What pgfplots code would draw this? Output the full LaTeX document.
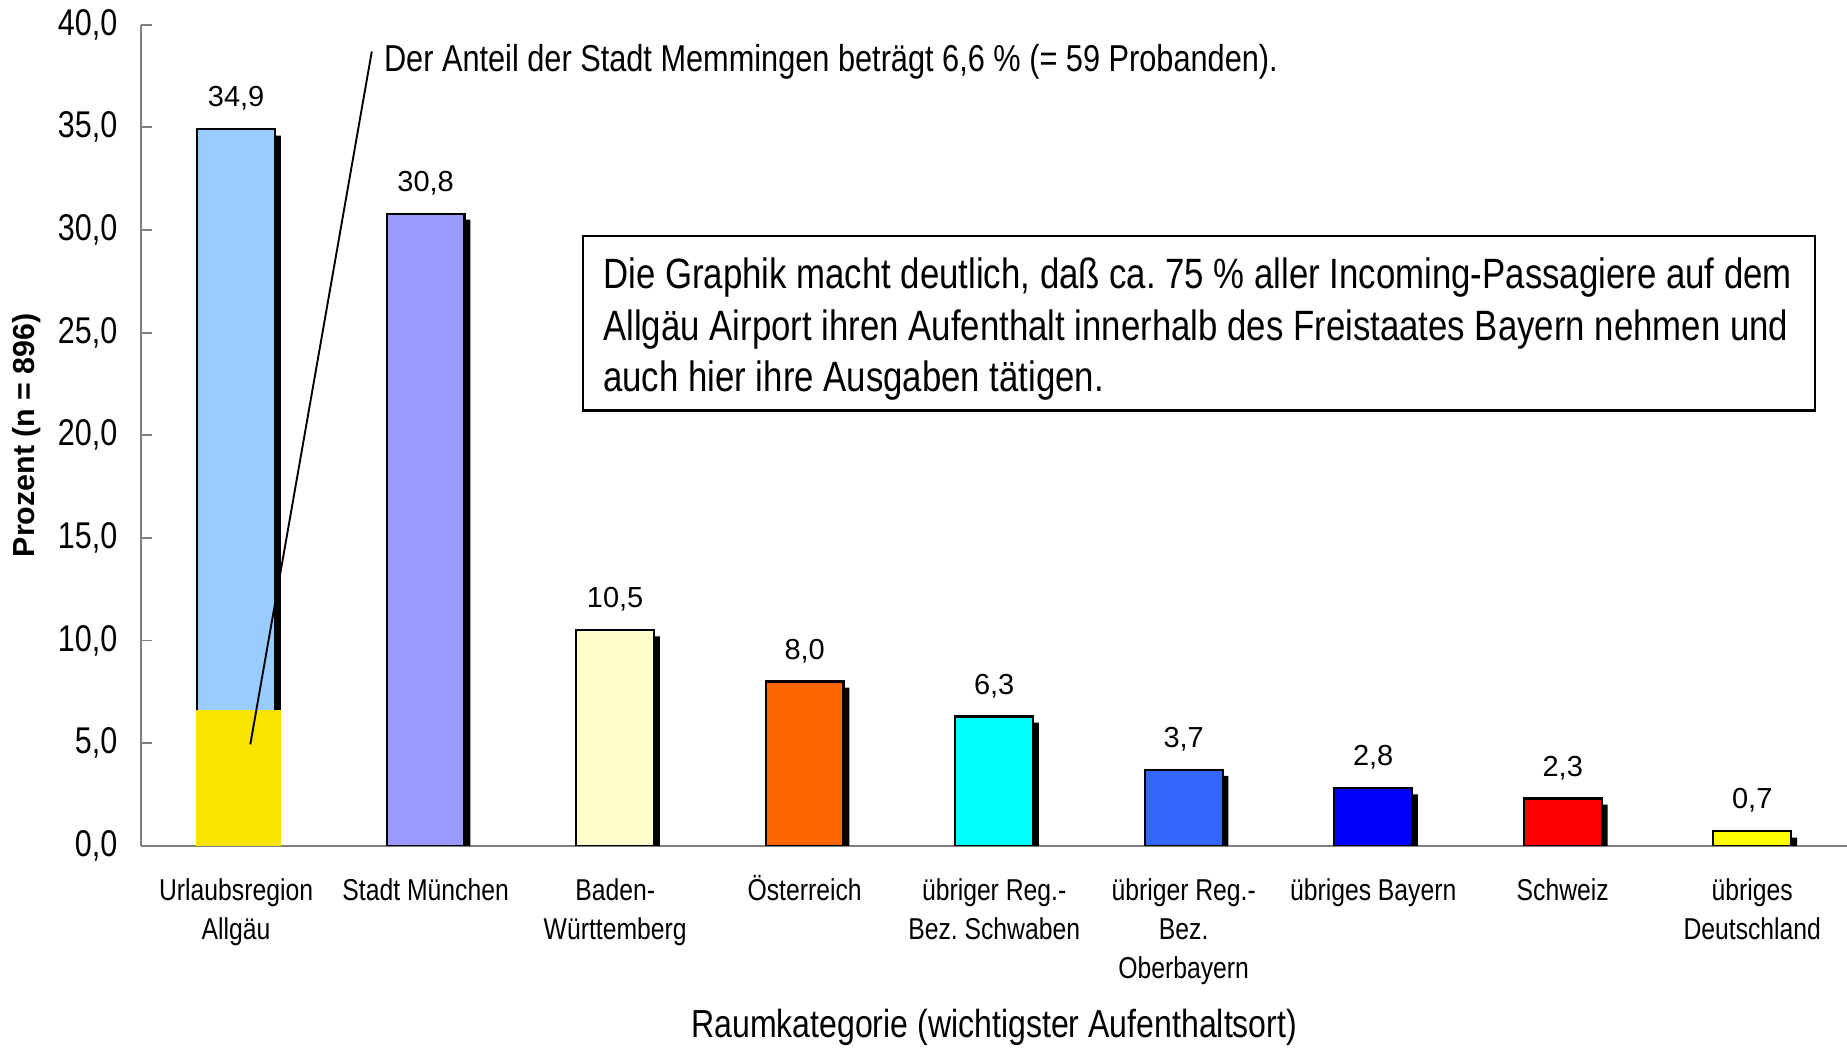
\documentclass[border=0pt]{standalone}
\usepackage{fontspec}
\usepackage{pgfplots}
\usepackage{pgfplotstable}
\pgfplotsset{compat=1.18}
\setmainfont{Liberation Sans}
\newfontfamily\narrow[FakeStretch=0.82]{Liberation Sans}
\frenchspacing

\definecolor{cUrlaub}{RGB}{153,204,255}
\definecolor{cMuenchen}{RGB}{153,153,255}
\definecolor{cBW}{RGB}{255,255,204}
\definecolor{cAT}{RGB}{255,102,0}
\definecolor{cSchwaben}{RGB}{0,255,255}
\definecolor{cObb}{RGB}{51,102,255}
\definecolor{cBayern}{RGB}{0,0,255}
\definecolor{cCH}{RGB}{255,0,0}
\definecolor{cDE}{RGB}{255,255,0}
\definecolor{cMemm}{RGB}{248,228,0}

% Anteile in Prozent (n = 896)
\pgfplotstableread{
x y
1 34.9
2 30.8
3 10.5
4 8.0
5 6.3
6 3.7
7 2.8
8 2.3
9 0.7
}\anteile

\newcommand{\balken}[3]{%
  \addplot[fill=#1, draw=black, line width=0.9pt, nodes near coords] coordinates {(#2,#3)};}
\newcommand{\st}{\rule{0pt}{13pt}}

\begin{document}
\begin{tikzpicture}
\useasboundingbox (-60pt,-85.5pt) rectangle (724pt,359pt);
\begin{axis}[
  scale only axis,
  width=724pt, height=348.5pt,
  xmin=0.5, xmax=9.5, ymin=0, ymax=40,
  axis lines*=left,
  axis line style={gray, line width=0.8pt},
  ybar, bar width=33pt, bar shift=0pt,
  xtick={1,...,9},
  xticklabels={\st Urlaubsregion\\Allgäu, \st Stadt München, \st Baden-\\Württemberg, \st Österreich,
    \st übriger Reg.-\\Bez. Schwaben, \st übriger Reg.-\\Bez.\\Oberbayern, \st übriges Bayern,
    \st Schweiz, \st übriges\\Deutschland},
  major x tick style={draw=none},
  ytick={0,5,...,40},
  ytick style={gray, line width=0.8pt},
  tick align=inside, major tick length=4.5pt,
  /pgf/number format/.cd, fixed, fixed zerofill, precision=1, use comma, assume math mode=true,
  /pgfplots/.cd,
  yticklabel style={font=\narrow\fontsize{15.8}{18}\selectfont, anchor=east, inner sep=0pt, xshift=-10pt},
  xticklabel style={font=\narrow\fontsize{12.8}{16.5}\selectfont, align=center, anchor=north,
    inner sep=0pt, yshift=-10pt},
  every node near coord/.append style={font=\fontsize{12.3}{14}\selectfont, inner sep=0pt, anchor=south, yshift=7.5pt, text=black},
  xlabel={Raumkategorie (wichtigster Aufenthaltsort)},
  xlabel style={at={(axis description cs:0.5,-0.221)}, anchor=center, font=\narrow\fontsize{16.6}{19}\selectfont},
  ylabel={Prozent (n = 896)},
  ylabel style={at={(axis description cs:-0.067,0.5)}, anchor=center, font=\bfseries\fontsize{12.9}{15}\selectfont},
]
% Schatten
\addplot[fill=black, draw=none, bar shift=2.5pt] table[x=x, y expr=\thisrow{y}-0.3] {\anteile};
% Balken
\balken{cUrlaub}{1}{34.9}
\balken{cMuenchen}{2}{30.8}
\balken{cBW}{3}{10.5}
\balken{cAT}{4}{8.0}
\balken{cSchwaben}{5}{6.3}
\balken{cObb}{6}{3.7}
\balken{cBayern}{7}{2.8}
\balken{cCH}{8}{2.3}
\balken{cDE}{9}{0.7}
% Stadt Memmingen innerhalb der Urlaubsregion
\addplot[fill=cMemm, draw=none, bar width=36pt, bar shift=1pt] coordinates {(1,6.6)};
\draw[line width=0.8pt] (axis cs:1.075,4.94) -- (axis cs:1.716,38.7);
\node[anchor=base west, inner sep=0pt, font=\narrow\fontsize{15.9}{18}\selectfont]
  at (axis cs:1.778,37.73) {Der Anteil der Stadt Memmingen beträgt 6,6 \% (= 59 Probanden).};
\draw[line width=1pt] (axis cs:2.83,29.7) rectangle (axis cs:9.33,21.2);
\node[anchor=west, inner sep=0pt, align=left, font=\narrow\fontsize{18}{22}\selectfont]
  at (axis cs:2.935,25.17) {Die Graphik macht deutlich, daß ca. 75 \% aller Incoming-Passagiere auf dem\\
  Allgäu Airport ihren Aufenthalt innerhalb des Freistaates Bayern nehmen und\\
  auch hier ihre Ausgaben tätigen.};
\end{axis}
\end{tikzpicture}
\end{document}
